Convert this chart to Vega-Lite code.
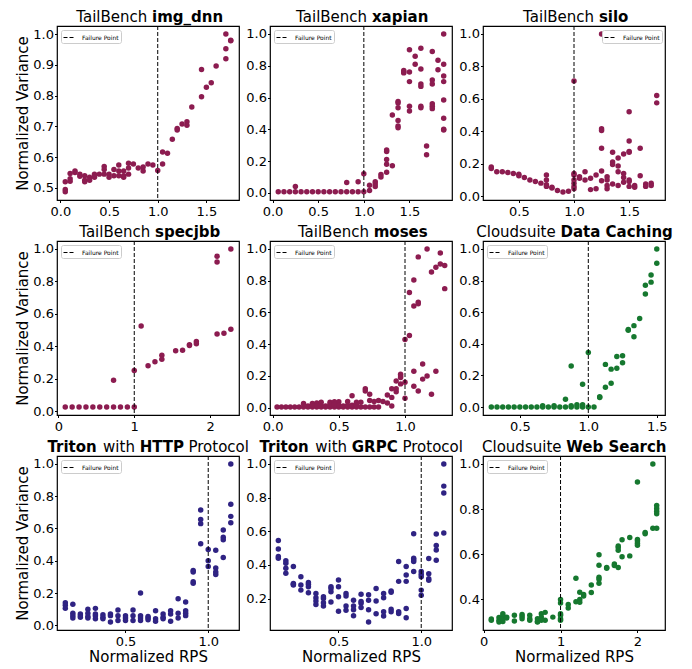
{
  "$schema": "https://vega.github.io/schema/vega-lite/v6.json",
  "background": "white",
  "padding": {"left": 15, "top": 9, "right": 5, "bottom": 5},
  "bounds": "flush",
  "columns": 3,
  "spacing": {"row": 41, "column": 31},
  "resolve": {"scale": {"strokeDash": "independent"}, "legend": {"strokeDash": "independent"}},
  "config": {
    "font": "DejaVu Sans",
    "view": {"stroke": "black", "strokeWidth": 1.2},
    "axis": {"grid": false, "domain": false, "tickColor": "black", "tickSize": 2.5, "tickWidth": 1, "labelFontSize": 13, "labelColor": "black", "labelFont": "DejaVu Sans", "titleFontSize": 15, "titleFontWeight": "normal", "titleColor": "black", "titleFont": "DejaVu Sans", "labelFlush": false, "labelOverlap": false},
    "axisX": {"labelPadding": 2.5, "titlePadding": 1},
    "axisY": {"labelPadding": 1, "titlePadding": 2},
    "legend": {"symbolType": "stroke", "symbolStrokeColor": "black", "symbolStrokeWidth": 1, "symbolSize": 100, "labelFontSize": 6, "labelColor": "black", "labelFont": "DejaVu Sans", "padding": 2, "strokeColor": "#cccccc", "fillColor": "white", "cornerRadius": 2, "offset": 3.5, "labelOffset": 8, "rowPadding": 0}
  },
  "datasets": {
    "failure": [{"x": 1}],
    "img_dnn": [
      {"x":0.05,"y":0.52},{"x":0.05,"y":0.495},{"x":0.05,"y":0.488},
      {"x":0.1,"y":0.547},{"x":0.1,"y":0.53},{"x":0.1,"y":0.522},
      {"x":0.15,"y":0.555},{"x":0.15,"y":0.55},
      {"x":0.2,"y":0.545},{"x":0.2,"y":0.538},
      {"x":0.25,"y":0.54},{"x":0.25,"y":0.525},{"x":0.25,"y":0.52},
      {"x":0.3,"y":0.535},{"x":0.3,"y":0.525},
      {"x":0.35,"y":0.545},{"x":0.35,"y":0.535},
      {"x":0.4,"y":0.545},
      {"x":0.45,"y":0.57},{"x":0.45,"y":0.56},{"x":0.45,"y":0.545},
      {"x":0.5,"y":0.545},{"x":0.5,"y":0.535},
      {"x":0.55,"y":0.56},{"x":0.55,"y":0.54},
      {"x":0.6,"y":0.575},{"x":0.6,"y":0.555},{"x":0.6,"y":0.54},
      {"x":0.65,"y":0.555},{"x":0.65,"y":0.54},{"x":0.65,"y":0.535},
      {"x":0.7,"y":0.58},{"x":0.7,"y":0.565},{"x":0.7,"y":0.545},
      {"x":0.75,"y":0.578},{"x":0.8,"y":0.565},
      {"x":0.85,"y":0.568},{"x":0.85,"y":0.555},
      {"x":0.9,"y":0.578},{"x":0.95,"y":0.575},{"x":1.0,"y":0.557},
      {"x":1.05,"y":0.617},{"x":1.05,"y":0.578},
      {"x":1.1,"y":0.613},{"x":1.15,"y":0.658},
      {"x":1.2,"y":0.693},{"x":1.2,"y":0.688},
      {"x":1.25,"y":0.708},
      {"x":1.3,"y":0.715},{"x":1.3,"y":0.704},
      {"x":1.35,"y":0.763},
      {"x":1.45,"y":0.885},{"x":1.45,"y":0.796},
      {"x":1.5,"y":0.827},{"x":1.55,"y":0.842},{"x":1.6,"y":0.896},
      {"x":1.7,"y":1.0},{"x":1.7,"y":0.952},{"x":1.7,"y":0.92},
      {"x":1.75,"y":0.98},{"x":1.75,"y":0.978}
    ],
    "xapian": [
      {"x":0.0625,"y":0.007},{"x":0.125,"y":0.007},{"x":0.1875,"y":0.007},{"x":0.25,"y":0.007},{"x":0.3125,"y":0.007},{"x":0.375,"y":0.007},{"x":0.4375,"y":0.007},{"x":0.5,"y":0.007},{"x":0.5625,"y":0.007},{"x":0.625,"y":0.007},{"x":0.6875,"y":0.007},{"x":0.75,"y":0.007},{"x":0.8125,"y":0.007},{"x":0.875,"y":0.007},{"x":0.9375,"y":0.007},{"x":1.0,"y":0.007},
      {"x":0.25,"y":0.04},{"x":0.8125,"y":0.065},{"x":0.9375,"y":0.07},{"x":1.0,"y":0.12},
      {"x":1.0625,"y":0.015},{"x":1.0625,"y":0.048},
      {"x":1.125,"y":0.07},{"x":1.125,"y":0.055},{"x":1.125,"y":0.04},
      {"x":1.1875,"y":0.115},{"x":1.1875,"y":0.1},
      {"x":1.25,"y":0.27},{"x":1.25,"y":0.26},{"x":1.25,"y":0.21},{"x":1.25,"y":0.18},{"x":1.25,"y":0.13},
      {"x":1.3125,"y":0.49},{"x":1.3125,"y":0.17},
      {"x":1.375,"y":0.575},{"x":1.375,"y":0.565},{"x":1.375,"y":0.535},{"x":1.375,"y":0.455},{"x":1.375,"y":0.42},{"x":1.375,"y":0.41},
      {"x":1.4375,"y":0.77},{"x":1.4375,"y":0.76},{"x":1.4375,"y":0.755},
      {"x":1.5,"y":0.9},{"x":1.5,"y":0.76},{"x":1.5,"y":0.7},{"x":1.5,"y":0.545},{"x":1.5,"y":0.515},
      {"x":1.5625,"y":0.86},{"x":1.5625,"y":0.81},
      {"x":1.625,"y":0.91},{"x":1.625,"y":0.78},{"x":1.625,"y":0.685},{"x":1.625,"y":0.67},{"x":1.625,"y":0.545},{"x":1.625,"y":0.535},
      {"x":1.6875,"y":0.295},{"x":1.6875,"y":0.24},
      {"x":1.75,"y":0.89},{"x":1.75,"y":0.71},{"x":1.75,"y":0.685},{"x":1.75,"y":0.56},{"x":1.75,"y":0.545},{"x":1.75,"y":0.53},
      {"x":1.8125,"y":0.835},{"x":1.8125,"y":0.775},
      {"x":1.875,"y":1.0},{"x":1.875,"y":0.81},{"x":1.875,"y":0.735},{"x":1.875,"y":0.7},{"x":1.875,"y":0.585},{"x":1.875,"y":0.47},{"x":1.875,"y":0.4},{"x":1.875,"y":0.395}
    ],
    "silo": [
      {"x":0.25,"y":0.18},{"x":0.25,"y":0.17},{"x":0.3,"y":0.15},{"x":0.35,"y":0.15},{"x":0.4,"y":0.145},{"x":0.45,"y":0.14},{"x":0.5,"y":0.135},{"x":0.5,"y":0.125},{"x":0.55,"y":0.115},{"x":0.6,"y":0.1},{"x":0.65,"y":0.09},{"x":0.7,"y":0.08},
      {"x":0.75,"y":0.13},{"x":0.75,"y":0.1},{"x":0.75,"y":0.07},{"x":0.75,"y":0.06},{"x":0.8,"y":0.055},{"x":0.8,"y":0.05},{"x":0.85,"y":0.035},{"x":0.9,"y":0.025},{"x":0.95,"y":0.03},
      {"x":1.0,"y":0.71},{"x":1.0,"y":0.14},{"x":1.0,"y":0.13},{"x":1.0,"y":0.1},{"x":1.0,"y":0.08},{"x":1.0,"y":0.06},{"x":1.0,"y":0.045},
      {"x":1.05,"y":0.12},{"x":1.05,"y":0.11},{"x":1.1,"y":0.15},{"x":1.1,"y":0.1},{"x":1.15,"y":0.11},{"x":1.15,"y":0.04},{"x":1.2,"y":0.13},{"x":1.2,"y":0.045},
      {"x":1.25,"y":1.0},{"x":1.25,"y":0.415},{"x":1.25,"y":0.405},{"x":1.25,"y":0.295},{"x":1.25,"y":0.155},{"x":1.25,"y":0.095},
      {"x":1.3,"y":0.12},{"x":1.3,"y":0.1},{"x":1.3,"y":0.065},{"x":1.3,"y":0.045},
      {"x":1.35,"y":0.27},{"x":1.35,"y":0.21},{"x":1.35,"y":0.195},{"x":1.35,"y":0.075},
      {"x":1.4,"y":0.235},{"x":1.4,"y":0.185},{"x":1.4,"y":0.15},{"x":1.4,"y":0.065},
      {"x":1.45,"y":0.26},{"x":1.45,"y":0.14},{"x":1.45,"y":0.115},{"x":1.45,"y":0.085},
      {"x":1.5,"y":0.52},{"x":1.5,"y":0.34},{"x":1.5,"y":0.275},{"x":1.5,"y":0.27},{"x":1.5,"y":0.1},{"x":1.5,"y":0.09},{"x":1.5,"y":0.06},
      {"x":1.55,"y":0.065},{"x":1.55,"y":0.055},{"x":1.6,"y":0.295},{"x":1.6,"y":0.125},{"x":1.65,"y":0.075},{"x":1.65,"y":0.06},{"x":1.7,"y":0.08},{"x":1.7,"y":0.065},{"x":1.75,"y":0.62},{"x":1.75,"y":0.575}
    ],
    "specjbb": [
      {"x":0.0909,"y":0.025},{"x":0.1818,"y":0.025},{"x":0.2727,"y":0.025},{"x":0.3636,"y":0.025},{"x":0.4545,"y":0.025},{"x":0.5455,"y":0.025},{"x":0.6364,"y":0.025},{"x":0.7273,"y":0.025},{"x":0.8182,"y":0.025},{"x":0.9091,"y":0.025},{"x":1.0,"y":0.025},
      {"x":0.7273,"y":0.19},{"x":1.0,"y":0.25},{"x":1.0909,"y":0.525},{"x":1.1818,"y":0.28},{"x":1.2727,"y":0.305},{"x":1.3636,"y":0.345},{"x":1.3636,"y":0.32},{"x":1.5455,"y":0.372},{"x":1.6364,"y":0.375},{"x":1.7273,"y":0.41},{"x":1.7273,"y":0.405},{"x":1.8182,"y":0.43},{"x":1.8182,"y":0.415},{"x":2.0909,"y":0.955},{"x":2.0909,"y":0.92},{"x":2.0909,"y":0.475},{"x":2.1818,"y":0.48},{"x":2.2727,"y":1.0},{"x":2.2727,"y":0.505}
    ],
    "moses": [
      {"x":0.0333,"y":0.004},{"x":0.0667,"y":0.004},{"x":0.1,"y":0.004},{"x":0.1333,"y":0.004},{"x":0.1667,"y":0.004},{"x":0.2,"y":0.004},
      {"x":0.2333,"y":0.004},{"x":0.2333,"y":0.027},
      {"x":0.2667,"y":0.004},{"x":0.2667,"y":0.01},
      {"x":0.3,"y":0.004},{"x":0.3,"y":0.027},{"x":0.3,"y":0.012},
      {"x":0.3333,"y":0.004},{"x":0.3333,"y":0.03},{"x":0.3333,"y":0.012},
      {"x":0.3667,"y":0.004},{"x":0.3667,"y":0.034},{"x":0.3667,"y":0.012},
      {"x":0.4,"y":0.004},{"x":0.4,"y":0.01},
      {"x":0.4333,"y":0.004},{"x":0.4333,"y":0.035},{"x":0.4333,"y":0.02},
      {"x":0.4667,"y":0.004},{"x":0.4667,"y":0.038},{"x":0.4667,"y":0.02},
      {"x":0.5,"y":0.004},{"x":0.5,"y":0.038},{"x":0.5,"y":0.015},
      {"x":0.5333,"y":0.004},{"x":0.5333,"y":0.01},
      {"x":0.5667,"y":0.004},{"x":0.5667,"y":0.039},{"x":0.5667,"y":0.016},
      {"x":0.6,"y":0.004},{"x":0.6,"y":0.075},{"x":0.6,"y":0.015},
      {"x":0.6333,"y":0.004},{"x":0.6333,"y":0.035},{"x":0.6333,"y":0.015},
      {"x":0.6667,"y":0.004},{"x":0.6667,"y":0.035},
      {"x":0.7,"y":0.004},{"x":0.7,"y":0.12},{"x":0.7,"y":0.105},
      {"x":0.7333,"y":0.085},{"x":0.7333,"y":0.045},{"x":0.7333,"y":0.004},
      {"x":0.7667,"y":0.039},{"x":0.7667,"y":0.005},
      {"x":0.8,"y":0.045},{"x":0.8,"y":0.005},
      {"x":0.8333,"y":0.039},
      {"x":0.8667,"y":0.08},{"x":0.8667,"y":0.03},
      {"x":0.9,"y":0.12},{"x":0.9,"y":0.065},{"x":0.9,"y":0.01},
      {"x":0.9333,"y":0.168},{"x":0.9333,"y":0.12},{"x":0.9333,"y":0.1},
      {"x":0.9667,"y":0.21},{"x":0.9667,"y":0.2},{"x":0.9667,"y":0.19},{"x":0.9667,"y":0.15},
      {"x":1.0,"y":0.43},{"x":1.0,"y":0.16},{"x":1.0,"y":0.06},
      {"x":1.0333,"y":0.725},{"x":1.0333,"y":0.455},
      {"x":1.0667,"y":0.805},{"x":1.0667,"y":0.64},{"x":1.0667,"y":0.23},{"x":1.0667,"y":0.135},
      {"x":1.1,"y":0.95},{"x":1.1,"y":0.665},{"x":1.1,"y":0.655},{"x":1.1,"y":0.105},
      {"x":1.1333,"y":0.275},{"x":1.1333,"y":0.18},
      {"x":1.1667,"y":1.0},{"x":1.1667,"y":0.2},
      {"x":1.2,"y":0.855},{"x":1.2,"y":0.085},
      {"x":1.2333,"y":0.885},{"x":1.2333,"y":0.23},
      {"x":1.2667,"y":0.975},{"x":1.2667,"y":0.905},
      {"x":1.3,"y":0.895},{"x":1.3,"y":0.75}
    ],
    "caching": [
      {"x":0.2917,"y":0.0},{"x":0.3333,"y":0.0},{"x":0.375,"y":0.0},{"x":0.4167,"y":0.0},{"x":0.4583,"y":0.0},{"x":0.5,"y":0.0},{"x":0.5417,"y":0.0},{"x":0.5833,"y":0.0},{"x":0.625,"y":0.0},{"x":0.6667,"y":0.0},{"x":0.7083,"y":0.0},{"x":0.75,"y":0.0},{"x":0.7917,"y":0.0},{"x":0.8333,"y":0.0},{"x":0.875,"y":0.0},{"x":0.9167,"y":0.0},{"x":0.9583,"y":0.0},{"x":1.0,"y":0.0},{"x":1.0417,"y":0.0},
      {"x":0.6667,"y":0.008},{"x":0.75,"y":0.008},{"x":0.875,"y":0.008},{"x":0.9167,"y":0.015},{"x":0.9583,"y":0.015},
      {"x":0.8333,"y":0.05},{"x":0.875,"y":0.26},{"x":0.9583,"y":0.145},{"x":1.0,"y":0.345},
      {"x":1.0833,"y":0.06},{"x":1.0833,"y":0.065},
      {"x":1.125,"y":0.27},{"x":1.125,"y":0.125},
      {"x":1.1667,"y":0.24},{"x":1.1667,"y":0.15},
      {"x":1.2083,"y":0.32},{"x":1.2083,"y":0.245},
      {"x":1.25,"y":0.325},{"x":1.25,"y":0.28},
      {"x":1.2917,"y":0.49},{"x":1.2917,"y":0.485},
      {"x":1.3333,"y":0.515},{"x":1.3333,"y":0.445},
      {"x":1.375,"y":0.56},
      {"x":1.4167,"y":0.77},{"x":1.4167,"y":0.715},
      {"x":1.4583,"y":0.835},{"x":1.4583,"y":0.79},
      {"x":1.5,"y":1.0},{"x":1.5,"y":0.91}
    ],
    "http": [
      {"x":0.1364,"y":0.14},{"x":0.1364,"y":0.125},{"x":0.1364,"y":0.105},
      {"x":0.1818,"y":0.13},{"x":0.1818,"y":0.075},{"x":0.1818,"y":0.06},{"x":0.1818,"y":0.045},
      {"x":0.2273,"y":0.07},{"x":0.2273,"y":0.06},{"x":0.2273,"y":0.05},
      {"x":0.2727,"y":0.1},{"x":0.2727,"y":0.075},{"x":0.2727,"y":0.055},{"x":0.2727,"y":0.045},
      {"x":0.3182,"y":0.105},{"x":0.3182,"y":0.07},{"x":0.3182,"y":0.06},{"x":0.3182,"y":0.04},
      {"x":0.3636,"y":0.065},{"x":0.3636,"y":0.05},{"x":0.3636,"y":0.04},
      {"x":0.4091,"y":0.07},{"x":0.4091,"y":0.06},{"x":0.4091,"y":0.02},
      {"x":0.4545,"y":0.095},{"x":0.4545,"y":0.06},{"x":0.4545,"y":0.03},
      {"x":0.5,"y":0.06},{"x":0.5,"y":0.045},{"x":0.5,"y":0.03},
      {"x":0.5455,"y":0.095},{"x":0.5455,"y":0.06},{"x":0.5455,"y":0.03},
      {"x":0.5909,"y":0.2},{"x":0.5909,"y":0.06},{"x":0.5909,"y":0.045},{"x":0.5909,"y":0.03},
      {"x":0.6364,"y":0.055},{"x":0.6364,"y":0.045},{"x":0.6364,"y":0.035},
      {"x":0.6818,"y":0.09},{"x":0.6818,"y":0.04},{"x":0.6818,"y":0.025},
      {"x":0.7273,"y":0.07},{"x":0.7273,"y":0.05},{"x":0.7273,"y":0.04},
      {"x":0.7727,"y":0.09},{"x":0.7727,"y":0.07},{"x":0.7727,"y":0.025},
      {"x":0.8182,"y":0.165},{"x":0.8182,"y":0.075},{"x":0.8182,"y":0.045},
      {"x":0.8636,"y":0.145},{"x":0.8636,"y":0.09},{"x":0.8636,"y":0.075},{"x":0.8636,"y":0.06},
      {"x":0.9091,"y":0.34},{"x":0.9091,"y":0.33},{"x":0.9091,"y":0.27},{"x":0.9091,"y":0.26},
      {"x":0.9545,"y":0.715},{"x":0.9545,"y":0.655},{"x":0.9545,"y":0.63},{"x":0.9545,"y":0.505},
      {"x":1.0,"y":0.47},{"x":1.0,"y":0.4},{"x":1.0,"y":0.365},
      {"x":1.0455,"y":0.465},{"x":1.0455,"y":0.355},{"x":1.0455,"y":0.33},{"x":1.0455,"y":0.315},
      {"x":1.0909,"y":0.59},{"x":1.0909,"y":0.545},{"x":1.0909,"y":0.53},{"x":1.0909,"y":0.42},
      {"x":1.1364,"y":1.0},{"x":1.1364,"y":0.75},{"x":1.1364,"y":0.675},{"x":1.1364,"y":0.635}
    ],
    "grpc": [
      {"x":0.1364,"y":0.545},{"x":0.1364,"y":0.495},{"x":0.1364,"y":0.45},{"x":0.1364,"y":0.44},
      {"x":0.1818,"y":0.425},{"x":0.1818,"y":0.41},{"x":0.1818,"y":0.38},{"x":0.1818,"y":0.35},
      {"x":0.2273,"y":0.39},{"x":0.2273,"y":0.29},{"x":0.2273,"y":0.285},{"x":0.2273,"y":0.28},
      {"x":0.2727,"y":0.33},{"x":0.2727,"y":0.28},{"x":0.2727,"y":0.25},
      {"x":0.3182,"y":0.295},{"x":0.3182,"y":0.285},{"x":0.3182,"y":0.27},{"x":0.3182,"y":0.235},
      {"x":0.3636,"y":0.23},{"x":0.3636,"y":0.205},{"x":0.3636,"y":0.185},{"x":0.3636,"y":0.165},
      {"x":0.4091,"y":0.21},{"x":0.4091,"y":0.2},{"x":0.4091,"y":0.175},{"x":0.4091,"y":0.155},
      {"x":0.4545,"y":0.27},{"x":0.4545,"y":0.26},{"x":0.4545,"y":0.24},{"x":0.4545,"y":0.18},
      {"x":0.5,"y":0.31},{"x":0.5,"y":0.27},{"x":0.5,"y":0.21},{"x":0.5,"y":0.125},
      {"x":0.5455,"y":0.23},{"x":0.5455,"y":0.215},{"x":0.5455,"y":0.155},{"x":0.5455,"y":0.13},
      {"x":0.5909,"y":0.19},{"x":0.5909,"y":0.155},{"x":0.5909,"y":0.133},{"x":0.5909,"y":0.098},
      {"x":0.6364,"y":0.226},{"x":0.6364,"y":0.182},{"x":0.6364,"y":0.172},{"x":0.6364,"y":0.147},
      {"x":0.6818,"y":0.222},{"x":0.6818,"y":0.19},{"x":0.6818,"y":0.133},{"x":0.6818,"y":0.06},
      {"x":0.7273,"y":0.26},{"x":0.7273,"y":0.186},{"x":0.7273,"y":0.109},
      {"x":0.7727,"y":0.23},{"x":0.7727,"y":0.204},{"x":0.7727,"y":0.121},{"x":0.7727,"y":0.096},
      {"x":0.8182,"y":0.245},{"x":0.8182,"y":0.237},{"x":0.8182,"y":0.137},{"x":0.8182,"y":0.121},
      {"x":0.8636,"y":0.42},{"x":0.8636,"y":0.302},{"x":0.8636,"y":0.121},{"x":0.8636,"y":0.111},
      {"x":0.9091,"y":0.391},{"x":0.9091,"y":0.34},{"x":0.9091,"y":0.302},{"x":0.9091,"y":0.141},{"x":0.9091,"y":0.086},
      {"x":0.9545,"y":0.585},{"x":0.9545,"y":0.44},{"x":0.9545,"y":0.43},{"x":0.9545,"y":0.42},{"x":0.9545,"y":0.36},
      {"x":1.0,"y":0.36},{"x":1.0,"y":0.345},{"x":1.0,"y":0.33},{"x":1.0,"y":0.25},{"x":1.0,"y":0.22},
      {"x":1.0455,"y":0.438},{"x":1.0455,"y":0.348},{"x":1.0455,"y":0.318},{"x":1.0455,"y":0.308},
      {"x":1.0909,"y":0.584},{"x":1.0909,"y":0.515},{"x":1.0909,"y":0.488},{"x":1.0909,"y":0.427},
      {"x":1.1364,"y":1.0},{"x":1.1364,"y":0.868},{"x":1.1364,"y":0.827},{"x":1.1364,"y":0.59}
    ],
    "websearch": [
      {"x":0.1,"y":0.314},{"x":0.1,"y":0.308},
      {"x":0.2,"y":0.32},{"x":0.2,"y":0.308},{"x":0.2,"y":0.3},
      {"x":0.25,"y":0.337},{"x":0.25,"y":0.327},{"x":0.25,"y":0.315},{"x":0.25,"y":0.303},
      {"x":0.3,"y":0.322},{"x":0.3,"y":0.318},
      {"x":0.4,"y":0.33},{"x":0.4,"y":0.305},
      {"x":0.5,"y":0.334},{"x":0.5,"y":0.325},{"x":0.5,"y":0.315},
      {"x":0.6,"y":0.33},{"x":0.6,"y":0.315},{"x":0.6,"y":0.308},
      {"x":0.7,"y":0.315},{"x":0.7,"y":0.303},{"x":0.7,"y":0.3},
      {"x":0.75,"y":0.337},{"x":0.75,"y":0.322},{"x":0.75,"y":0.308},
      {"x":0.8,"y":0.343},{"x":0.8,"y":0.308},
      {"x":0.9,"y":0.322},
      {"x":1.0,"y":0.4},{"x":1.0,"y":0.384},{"x":1.0,"y":0.337},{"x":1.0,"y":0.33},{"x":1.0,"y":0.315},{"x":1.0,"y":0.308},
      {"x":1.1,"y":0.378},{"x":1.1,"y":0.362},
      {"x":1.2,"y":0.494},{"x":1.2,"y":0.39},
      {"x":1.25,"y":0.432},{"x":1.25,"y":0.4},{"x":1.25,"y":0.388},
      {"x":1.3,"y":0.422},{"x":1.3,"y":0.415},
      {"x":1.4,"y":0.464},{"x":1.4,"y":0.431},
      {"x":1.5,"y":0.598},{"x":1.5,"y":0.552},{"x":1.5,"y":0.498},{"x":1.5,"y":0.49},{"x":1.5,"y":0.472},
      {"x":1.6,"y":0.542},{"x":1.6,"y":0.538},
      {"x":1.7,"y":0.557},{"x":1.7,"y":0.55},
      {"x":1.75,"y":0.637},{"x":1.75,"y":0.63},{"x":1.75,"y":0.618},{"x":1.75,"y":0.542},
      {"x":1.8,"y":0.664},{"x":1.8,"y":0.589},
      {"x":1.9,"y":0.674},{"x":1.9,"y":0.593},
      {"x":2.0,"y":0.92},{"x":2.0,"y":0.666},{"x":2.0,"y":0.659},{"x":2.0,"y":0.649},{"x":2.0,"y":0.64},
      {"x":2.1,"y":0.696},{"x":2.1,"y":0.691},
      {"x":2.2,"y":1.0},{"x":2.2,"y":0.715},
      {"x":2.25,"y":0.816},{"x":2.25,"y":0.803},{"x":2.25,"y":0.791},{"x":2.25,"y":0.779},{"x":2.25,"y":0.715}
    ]
  },
  "concat": [
    {
      "width": 182, "height": 174,
      "resolve": {"axis": {"x": "independent", "y": "independent"}},
      "layer": [
        {"data": {"name": "img_dnn"}, "mark": {"type": "point", "filled": true, "size": 30, "opacity": 1, "color": "#8C1C50"},
         "encoding": {
           "x": {"field": "x", "type": "quantitative", "scale": {"domain": [-0.035, 1.835], "nice": false, "zero": false}, "axis": {"title": null, "values": [0, 0.5, 1, 1.5], "format": ".1f"}},
           "y": {"field": "y", "type": "quantitative", "scale": {"domain": [0.461, 1.026], "nice": false, "zero": false}, "axis": {"title": "Normalized Variance", "values": [0.5, 0.6, 0.7, 0.8, 0.9, 1.0], "format": ".1f"}}}},
        {"data": {"name": "failure"}, "mark": {"type": "rule", "color": "black", "strokeWidth": 1},
         "encoding": {"x": {"field": "x", "type": "quantitative", "axis": null},
           "strokeDash": {"datum": "Failure Point", "type": "nominal", "scale": {"range": [[4, 2]]}, "legend": {"title": null, "orient": "top-left"}}}},
        {"data": {"name": "failure"}, "mark": {"type": "point", "opacity": 0},
         "encoding": {"y": {"datum": 1, "type": "quantitative", "axis": null}, "x": {"field": "x", "type": "quantitative", "axis": {"orient": "top", "labels": false, "ticks": false, "domain": false, "title": "TailBench", "titleFontWeight": "normal", "titleAlign": "right", "titleX": 89.8, "titleY": -4.3, "titleBaseline": "alphabetic"}}}},
        {"data": {"name": "failure"}, "mark": {"type": "point", "opacity": 0},
         "encoding": {"y": {"datum": 1, "type": "quantitative", "axis": null}, "x": {"field": "x", "type": "quantitative", "axis": {"orient": "top", "labels": false, "ticks": false, "domain": false, "title": "img_dnn", "titleFontWeight": "bold", "titleAlign": "left", "titleX": 94.6, "titleY": -4.3, "titleBaseline": "alphabetic"}}}}
      ]
    },
    {
      "width": 182, "height": 174,
      "resolve": {"axis": {"x": "independent", "y": "independent"}},
      "layer": [
        {"data": {"name": "xapian"}, "mark": {"type": "point", "filled": true, "size": 30, "opacity": 1, "color": "#8C1C50"},
         "encoding": {
           "x": {"field": "x", "type": "quantitative", "scale": {"domain": [-0.028, 1.966], "nice": false, "zero": false}, "axis": {"title": null, "values": [0, 0.5, 1, 1.5], "format": ".1f"}},
           "y": {"field": "y", "type": "quantitative", "scale": {"domain": [-0.045, 1.05], "nice": false, "zero": false}, "axis": {"title": null, "values": [0, 0.2, 0.4, 0.6, 0.8, 1.0], "format": ".1f"}}}},
        {"data": {"name": "failure"}, "mark": {"type": "rule", "color": "black", "strokeWidth": 1},
         "encoding": {"x": {"field": "x", "type": "quantitative", "axis": null},
           "strokeDash": {"datum": "Failure Point", "type": "nominal", "scale": {"range": [[4, 2]]}, "legend": {"title": null, "orient": "top-left"}}}},
        {"data": {"name": "failure"}, "mark": {"type": "point", "opacity": 0},
         "encoding": {"y": {"datum": 1, "type": "quantitative", "axis": null}, "x": {"field": "x", "type": "quantitative", "axis": {"orient": "top", "labels": false, "ticks": false, "domain": false, "title": "TailBench", "titleFontWeight": "normal", "titleAlign": "right", "titleX": 96.6, "titleY": -4.3, "titleBaseline": "alphabetic"}}}},
        {"data": {"name": "failure"}, "mark": {"type": "point", "opacity": 0},
         "encoding": {"y": {"datum": 1, "type": "quantitative", "axis": null}, "x": {"field": "x", "type": "quantitative", "axis": {"orient": "top", "labels": false, "ticks": false, "domain": false, "title": "xapian", "titleFontWeight": "bold", "titleAlign": "left", "titleX": 101.4, "titleY": -4.3, "titleBaseline": "alphabetic"}}}}
      ]
    },
    {
      "width": 182, "height": 174,
      "resolve": {"axis": {"x": "independent", "y": "independent"}},
      "layer": [
        {"data": {"name": "silo"}, "mark": {"type": "point", "filled": true, "size": 30, "opacity": 1, "color": "#8C1C50"},
         "encoding": {
           "x": {"field": "x", "type": "quantitative", "scale": {"domain": [0.175, 1.825], "nice": false, "zero": false}, "axis": {"title": null, "values": [0.5, 1, 1.5], "format": ".1f"}},
           "y": {"field": "y", "type": "quantitative", "scale": {"domain": [-0.024, 1.049], "nice": false, "zero": false}, "axis": {"title": null, "values": [0, 0.2, 0.4, 0.6, 0.8, 1.0], "format": ".1f"}}}},
        {"data": {"name": "failure"}, "mark": {"type": "rule", "color": "black", "strokeWidth": 1},
         "encoding": {"x": {"field": "x", "type": "quantitative", "axis": null},
           "strokeDash": {"datum": "Failure Point", "type": "nominal", "scale": {"range": [[4, 2]]}, "legend": {"title": null, "orient": "top-right"}}}},
        {"data": {"name": "failure"}, "mark": {"type": "point", "opacity": 0},
         "encoding": {"y": {"datum": 1, "type": "quantitative", "axis": null}, "x": {"field": "x", "type": "quantitative", "axis": {"orient": "top", "labels": false, "ticks": false, "domain": false, "title": "TailBench", "titleFontWeight": "normal", "titleAlign": "right", "titleX": 110.6, "titleY": -4.3, "titleBaseline": "alphabetic"}}}},
        {"data": {"name": "failure"}, "mark": {"type": "point", "opacity": 0},
         "encoding": {"y": {"datum": 1, "type": "quantitative", "axis": null}, "x": {"field": "x", "type": "quantitative", "axis": {"orient": "top", "labels": false, "ticks": false, "domain": false, "title": "silo", "titleFontWeight": "bold", "titleAlign": "left", "titleX": 115.4, "titleY": -4.3, "titleBaseline": "alphabetic"}}}}
      ]
    },
    {
      "width": 182, "height": 174,
      "resolve": {"axis": {"x": "independent", "y": "independent"}},
      "layer": [
        {"data": {"name": "specjbb"}, "mark": {"type": "point", "filled": true, "size": 30, "opacity": 1, "color": "#8C1C50"},
         "encoding": {
           "x": {"field": "x", "type": "quantitative", "scale": {"domain": [-0.018, 2.38], "nice": false, "zero": false}, "axis": {"title": null, "values": [0, 1, 2], "format": "d"}},
           "y": {"field": "y", "type": "quantitative", "scale": {"domain": [-0.024, 1.049], "nice": false, "zero": false}, "axis": {"title": "Normalized Variance", "values": [0, 0.2, 0.4, 0.6, 0.8, 1.0], "format": ".1f"}}}},
        {"data": {"name": "failure"}, "mark": {"type": "rule", "color": "black", "strokeWidth": 1},
         "encoding": {"x": {"field": "x", "type": "quantitative", "axis": null},
           "strokeDash": {"datum": "Failure Point", "type": "nominal", "scale": {"range": [[4, 2]]}, "legend": {"title": null, "orient": "top-left"}}}},
        {"data": {"name": "failure"}, "mark": {"type": "point", "opacity": 0},
         "encoding": {"y": {"datum": 1, "type": "quantitative", "axis": null}, "x": {"field": "x", "type": "quantitative", "axis": {"orient": "top", "labels": false, "ticks": false, "domain": false, "title": "TailBench", "titleFontWeight": "normal", "titleAlign": "right", "titleX": 92.7, "titleY": -4.3, "titleBaseline": "alphabetic"}}}},
        {"data": {"name": "failure"}, "mark": {"type": "point", "opacity": 0},
         "encoding": {"y": {"datum": 1, "type": "quantitative", "axis": null}, "x": {"field": "x", "type": "quantitative", "axis": {"orient": "top", "labels": false, "ticks": false, "domain": false, "title": "specjbb", "titleFontWeight": "bold", "titleAlign": "left", "titleX": 97.5, "titleY": -4.3, "titleBaseline": "alphabetic"}}}}
      ]
    },
    {
      "width": 182, "height": 174,
      "resolve": {"axis": {"x": "independent", "y": "independent"}},
      "layer": [
        {"data": {"name": "moses"}, "mark": {"type": "point", "filled": true, "size": 30, "opacity": 1, "color": "#8C1C50"},
         "encoding": {
           "x": {"field": "x", "type": "quantitative", "scale": {"domain": [-0.02, 1.355], "nice": false, "zero": false}, "axis": {"title": null, "values": [0, 0.5, 1], "format": ".1f"}},
           "y": {"field": "y", "type": "quantitative", "scale": {"domain": [-0.046, 1.05], "nice": false, "zero": false}, "axis": {"title": null, "values": [0, 0.2, 0.4, 0.6, 0.8, 1.0], "format": ".1f"}}}},
        {"data": {"name": "failure"}, "mark": {"type": "rule", "color": "black", "strokeWidth": 1},
         "encoding": {"x": {"field": "x", "type": "quantitative", "axis": null},
           "strokeDash": {"datum": "Failure Point", "type": "nominal", "scale": {"range": [[4, 2]]}, "legend": {"title": null, "orient": "top-left"}}}},
        {"data": {"name": "failure"}, "mark": {"type": "point", "opacity": 0},
         "encoding": {"y": {"datum": 1, "type": "quantitative", "axis": null}, "x": {"field": "x", "type": "quantitative", "axis": {"orient": "top", "labels": false, "ticks": false, "domain": false, "title": "TailBench", "titleFontWeight": "normal", "titleAlign": "right", "titleX": 98.4, "titleY": -4.3, "titleBaseline": "alphabetic"}}}},
        {"data": {"name": "failure"}, "mark": {"type": "point", "opacity": 0},
         "encoding": {"y": {"datum": 1, "type": "quantitative", "axis": null}, "x": {"field": "x", "type": "quantitative", "axis": {"orient": "top", "labels": false, "ticks": false, "domain": false, "title": "moses", "titleFontWeight": "bold", "titleAlign": "left", "titleX": 103.2, "titleY": -4.3, "titleBaseline": "alphabetic"}}}}
      ]
    },
    {
      "width": 182, "height": 174,
      "resolve": {"axis": {"x": "independent", "y": "independent"}},
      "layer": [
        {"data": {"name": "caching"}, "mark": {"type": "point", "filled": true, "size": 30, "opacity": 1, "color": "#16782F"},
         "encoding": {
           "x": {"field": "x", "type": "quantitative", "scale": {"domain": [0.231, 1.56], "nice": false, "zero": false}, "axis": {"title": null, "values": [0.5, 1, 1.5], "format": ".1f"}},
           "y": {"field": "y", "type": "quantitative", "scale": {"domain": [-0.05, 1.05], "nice": false, "zero": false}, "axis": {"title": null, "values": [0, 0.2, 0.4, 0.6, 0.8, 1.0], "format": ".1f"}}}},
        {"data": {"name": "failure"}, "mark": {"type": "rule", "color": "black", "strokeWidth": 1},
         "encoding": {"x": {"field": "x", "type": "quantitative", "axis": null},
           "strokeDash": {"datum": "Failure Point", "type": "nominal", "scale": {"range": [[4, 2]]}, "legend": {"title": null, "orient": "top-left"}}}},
        {"data": {"name": "failure"}, "mark": {"type": "point", "opacity": 0},
         "encoding": {"y": {"datum": 1, "type": "quantitative", "axis": null}, "x": {"field": "x", "type": "quantitative", "axis": {"orient": "top", "labels": false, "ticks": false, "domain": false, "title": "Cloudsuite", "titleFontWeight": "normal", "titleAlign": "right", "titleX": 72.2, "titleY": -4.3, "titleBaseline": "alphabetic"}}}},
        {"data": {"name": "failure"}, "mark": {"type": "point", "opacity": 0},
         "encoding": {"y": {"datum": 1, "type": "quantitative", "axis": null}, "x": {"field": "x", "type": "quantitative", "axis": {"orient": "top", "labels": false, "ticks": false, "domain": false, "title": "Data Caching", "titleFontWeight": "bold", "titleAlign": "left", "titleX": 77.0, "titleY": -4.3, "titleBaseline": "alphabetic"}}}}
      ]
    },
    {
      "width": 182, "height": 174,
      "resolve": {"axis": {"x": "independent", "y": "independent"}},
      "layer": [
        {"data": {"name": "http"}, "mark": {"type": "point", "filled": true, "size": 30, "opacity": 1, "color": "#2F2383"},
         "encoding": {
           "x": {"field": "x", "type": "quantitative", "scale": {"domain": [0.086, 1.186], "nice": false, "zero": false}, "axis": {"title": "Normalized RPS", "values": [0.5, 1], "format": ".1f"}},
           "y": {"field": "y", "type": "quantitative", "scale": {"domain": [-0.029, 1.049], "nice": false, "zero": false}, "axis": {"title": "Normalized Variance", "values": [0, 0.2, 0.4, 0.6, 0.8, 1.0], "format": ".1f"}}}},
        {"data": {"name": "failure"}, "mark": {"type": "rule", "color": "black", "strokeWidth": 1},
         "encoding": {"x": {"field": "x", "type": "quantitative", "axis": null},
           "strokeDash": {"datum": "Failure Point", "type": "nominal", "scale": {"range": [[4, 2]]}, "legend": {"title": null, "orient": "top-left"}}}},
        {"data": {"name": "failure"}, "mark": {"type": "point", "opacity": 0},
         "encoding": {"y": {"datum": 1, "type": "quantitative", "axis": null}, "x": {"field": "x", "type": "quantitative", "axis": {"orient": "top", "labels": false, "ticks": false, "domain": false, "title": "Triton", "titleFontWeight": "bold", "titleAlign": "left", "titleX": -10.1, "titleY": -4.3, "titleBaseline": "alphabetic"}}}},
        {"data": {"name": "failure"}, "mark": {"type": "point", "opacity": 0},
         "encoding": {"y": {"datum": 1, "type": "quantitative", "axis": null}, "x": {"field": "x", "type": "quantitative", "axis": {"orient": "top", "labels": false, "ticks": false, "domain": false, "title": "with", "titleFontWeight": "normal", "titleAlign": "left", "titleX": 45.6, "titleY": -4.3, "titleBaseline": "alphabetic"}}}},
        {"data": {"name": "failure"}, "mark": {"type": "point", "opacity": 0},
         "encoding": {"y": {"datum": 1, "type": "quantitative", "axis": null}, "x": {"field": "x", "type": "quantitative", "axis": {"orient": "top", "labels": false, "ticks": false, "domain": false, "title": "HTTP", "titleFontWeight": "bold", "titleAlign": "left", "titleX": 82.2, "titleY": -4.3, "titleBaseline": "alphabetic"}}}},
        {"data": {"name": "failure"}, "mark": {"type": "point", "opacity": 0},
         "encoding": {"y": {"datum": 1, "type": "quantitative", "axis": null}, "x": {"field": "x", "type": "quantitative", "axis": {"orient": "top", "labels": false, "ticks": false, "domain": false, "title": "Protocol", "titleFontWeight": "normal", "titleAlign": "left", "titleX": 131.0, "titleY": -4.3, "titleBaseline": "alphabetic"}}}}
      ]
    },
    {
      "width": 182, "height": 174,
      "resolve": {"axis": {"x": "independent", "y": "independent"}},
      "layer": [
        {"data": {"name": "grpc"}, "mark": {"type": "point", "filled": true, "size": 30, "opacity": 1, "color": "#2F2383"},
         "encoding": {
           "x": {"field": "x", "type": "quantitative", "scale": {"domain": [0.086, 1.186], "nice": false, "zero": false}, "axis": {"title": "Normalized RPS", "values": [0.5, 1], "format": ".1f"}},
           "y": {"field": "y", "type": "quantitative", "scale": {"domain": [0.013, 1.047], "nice": false, "zero": false}, "axis": {"title": null, "values": [0.2, 0.4, 0.6, 0.8, 1.0], "format": ".1f"}}}},
        {"data": {"name": "failure"}, "mark": {"type": "rule", "color": "black", "strokeWidth": 1},
         "encoding": {"x": {"field": "x", "type": "quantitative", "axis": null},
           "strokeDash": {"datum": "Failure Point", "type": "nominal", "scale": {"range": [[4, 2]]}, "legend": {"title": null, "orient": "top-left"}}}},
        {"data": {"name": "failure"}, "mark": {"type": "point", "opacity": 0},
         "encoding": {"y": {"datum": 1, "type": "quantitative", "axis": null}, "x": {"field": "x", "type": "quantitative", "axis": {"orient": "top", "labels": false, "ticks": false, "domain": false, "title": "Triton", "titleFontWeight": "bold", "titleAlign": "left", "titleX": -11.0, "titleY": -4.3, "titleBaseline": "alphabetic"}}}},
        {"data": {"name": "failure"}, "mark": {"type": "point", "opacity": 0},
         "encoding": {"y": {"datum": 1, "type": "quantitative", "axis": null}, "x": {"field": "x", "type": "quantitative", "axis": {"orient": "top", "labels": false, "ticks": false, "domain": false, "title": "with", "titleFontWeight": "normal", "titleAlign": "left", "titleX": 44.7, "titleY": -4.3, "titleBaseline": "alphabetic"}}}},
        {"data": {"name": "failure"}, "mark": {"type": "point", "opacity": 0},
         "encoding": {"y": {"datum": 1, "type": "quantitative", "axis": null}, "x": {"field": "x", "type": "quantitative", "axis": {"orient": "top", "labels": false, "ticks": false, "domain": false, "title": "GRPC", "titleFontWeight": "bold", "titleAlign": "left", "titleX": 81.3, "titleY": -4.3, "titleBaseline": "alphabetic"}}}},
        {"data": {"name": "failure"}, "mark": {"type": "point", "opacity": 0},
         "encoding": {"y": {"datum": 1, "type": "quantitative", "axis": null}, "x": {"field": "x", "type": "quantitative", "axis": {"orient": "top", "labels": false, "ticks": false, "domain": false, "title": "Protocol", "titleFontWeight": "normal", "titleAlign": "left", "titleX": 132.0, "titleY": -4.3, "titleBaseline": "alphabetic"}}}}
      ]
    },
    {
      "width": 182, "height": 174,
      "resolve": {"axis": {"x": "independent", "y": "independent"}},
      "layer": [
        {"data": {"name": "websearch"}, "mark": {"type": "point", "filled": true, "size": 30, "opacity": 1, "color": "#16782F"},
         "encoding": {
           "x": {"field": "x", "type": "quantitative", "scale": {"domain": [-0.008, 2.358], "nice": false, "zero": false}, "axis": {"title": "Normalized RPS", "values": [0, 1, 2], "format": "d"}},
           "y": {"field": "y", "type": "quantitative", "scale": {"domain": [0.265, 1.035], "nice": false, "zero": false}, "axis": {"title": null, "values": [0.4, 0.6, 0.8, 1.0], "format": ".1f"}}}},
        {"data": {"name": "failure"}, "mark": {"type": "rule", "color": "black", "strokeWidth": 1},
         "encoding": {"x": {"field": "x", "type": "quantitative", "axis": null},
           "strokeDash": {"datum": "Failure Point", "type": "nominal", "scale": {"range": [[4, 2]]}, "legend": {"title": null, "orient": "top-left"}}}},
        {"data": {"name": "failure"}, "mark": {"type": "point", "opacity": 0},
         "encoding": {"y": {"datum": 1, "type": "quantitative", "axis": null}, "x": {"field": "x", "type": "quantitative", "axis": {"orient": "top", "labels": false, "ticks": false, "domain": false, "title": "Cloudsuite", "titleFontWeight": "normal", "titleAlign": "right", "titleX": 78.0, "titleY": -4.3, "titleBaseline": "alphabetic"}}}},
        {"data": {"name": "failure"}, "mark": {"type": "point", "opacity": 0},
         "encoding": {"y": {"datum": 1, "type": "quantitative", "axis": null}, "x": {"field": "x", "type": "quantitative", "axis": {"orient": "top", "labels": false, "ticks": false, "domain": false, "title": "Web Search", "titleFontWeight": "bold", "titleAlign": "left", "titleX": 82.8, "titleY": -4.3, "titleBaseline": "alphabetic"}}}}
      ]
    }
  ]
}
